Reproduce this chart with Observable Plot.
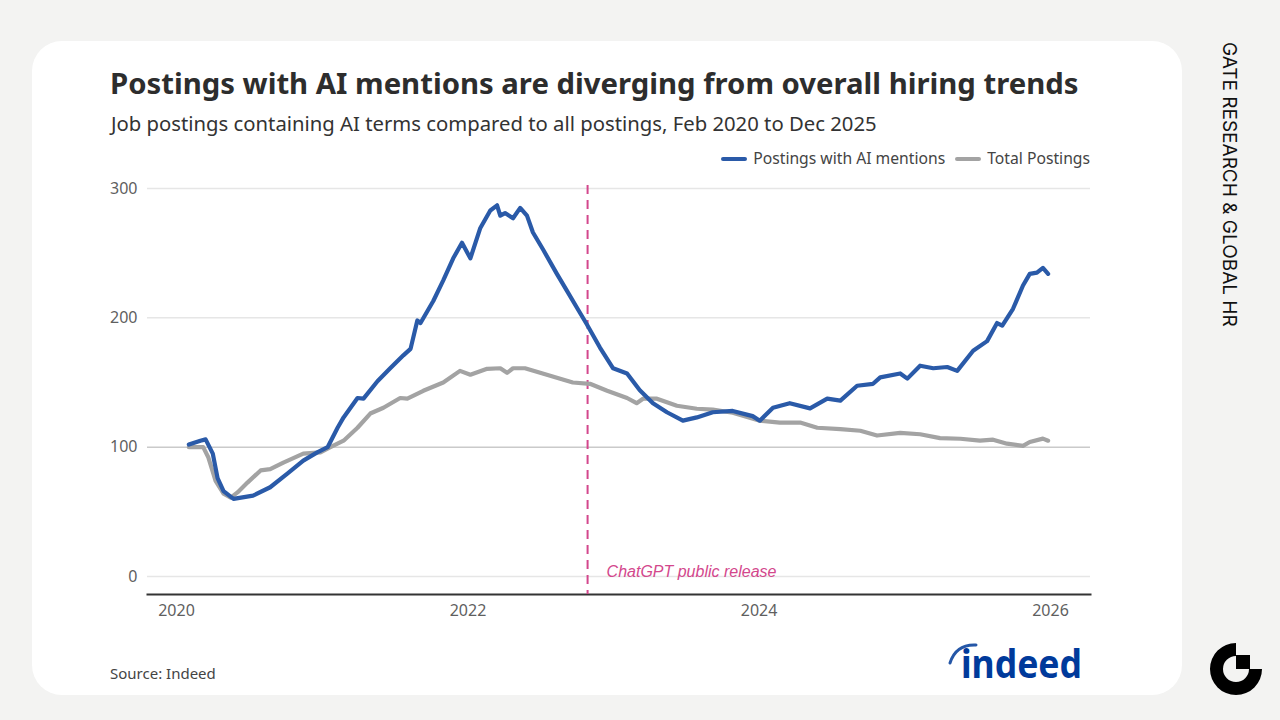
<!DOCTYPE html>
<html><head><meta charset="utf-8">
<script src="https://cdn.jsdelivr.net/npm/d3@7"></script>
<script src="https://cdn.jsdelivr.net/npm/@observablehq/plot@0.6"></script>
<style>
body{margin:0;width:1280px;height:720px;background:#f3f3f2;position:relative;overflow:hidden;font-family:"Noto Sans",sans-serif;}
#card{position:absolute;left:32px;top:41px;width:1150px;height:654px;background:#fff;border-radius:30px;}
.t{position:absolute;white-space:nowrap;line-height:1;}
#title{left:110px;top:69px;font-size:29.3px;font-weight:700;color:#2d2d2d;}
#subtitle{left:111px;top:113px;font-size:20.3px;color:#333;}
#legend{right:190px;top:151px;font-size:15.7px;color:#444;display:flex;align-items:center;}
#legend .sw{display:inline-block;width:26px;height:4px;border-radius:2px;margin-right:6px;}
#source{left:110px;top:666px;font-size:15px;color:#444;}
#side{left:1220px;top:42px;font-family:Inter,sans-serif;font-size:19px;color:#111;writing-mode:vertical-rl;}
#chart{position:absolute;left:100px;top:160px;}
</style></head>
<body>
<div id="card"></div>
<div class="t" id="title">Postings with AI mentions are diverging from overall hiring trends</div>
<div class="t" id="subtitle">Job postings containing AI terms compared to all postings, Feb 2020 to Dec 2025</div>
<div class="t" id="legend"><span class="sw" style="background:#2a5aa8"></span>Postings with AI mentions<span class="sw" style="background:#a3a3a3;margin-left:10px"></span>Total Postings</div>
<div id="chart"></div>
<div class="t" id="source">Source: Indeed</div>
<svg style="position:absolute;left:940px;top:630px;overflow:visible" width="150" height="60">
<path d="M10 33 Q 16 14 36 15" stroke="#2557a7" fill="none" stroke-width="3" stroke-linecap="round"/>
<text x="21" y="48" font-family="Noto Sans" font-size="40" font-weight="700" fill="#003a9b" textLength="121" lengthAdjust="spacingAndGlyphs">indeed</text>
</svg>
<div class="t" id="side">GATE RESEARCH &amp; GLOBAL HR</div>
<svg style="position:absolute;left:1206px;top:640px" width="60" height="60">
<path d="M30 3 A26 26 0 1 0 56 29 L43 29 A13 13 0 1 1 30 16 Z" fill="#000"/>
<rect x="30" y="15" width="14" height="14" fill="#000"/>
</svg>
<script>
const aiDates = ["2020-02-01","2020-03-01","2020-03-14","2020-04-01","2020-04-13","2020-04-28","2020-05-23","2020-07-11","2020-08-23","2020-10-05","2020-11-14","2020-12-19","2021-01-14","2021-02-08","2021-02-23","2021-03-30","2021-04-14","2021-05-19","2021-06-20","2021-07-23","2021-08-10","2021-08-27","2021-09-04","2021-10-06","2021-10-31","2021-11-25","2021-12-17","2022-01-07","2022-02-01","2022-02-26","2022-03-15","2022-03-23","2022-04-04","2022-04-24","2022-05-12","2022-05-29","2022-06-13","2022-07-08","2022-08-12","2022-09-06","2022-10-01","2022-10-26","2022-11-28","2022-12-31","2023-02-04","2023-03-08","2023-04-10","2023-05-15","2023-06-24","2023-07-29","2023-09-07","2023-10-27","2023-12-16","2024-01-03","2024-02-05","2024-03-18","2024-05-08","2024-06-20","2024-07-23","2024-09-03","2024-10-13","2024-10-31","2024-12-20","2025-01-07","2025-02-08","2025-03-13","2025-04-17","2025-05-12","2025-06-21","2025-07-26","2025-08-20","2025-09-02","2025-09-29","2025-10-24","2025-11-10","2025-11-28","2025-12-13","2025-12-26"];
const aiValues = [102,105,106,95,76,66,60,62.5,69,79.5,89.6,96,100,115,123,138,137.5,151,161,171,176,198,196,213,229,246,258,246,269.5,283,287,279,281,277,285,279,266,253,234,221,208,195,177,161,157,144,134,127,120.5,123,127,128,124,120.5,130.5,134,130,137.5,136,147.5,149,154,157,153,163,161,162,159,174.5,182,196,194,207,225,234,235,238.6,234];
const totalDates = ["2020-02-01","2020-03-08","2020-03-21","2020-04-08","2020-04-28","2020-05-16","2020-06-02","2020-06-27","2020-07-30","2020-08-23","2020-09-25","2020-11-14","2020-12-27","2021-01-21","2021-02-23","2021-03-30","2021-05-01","2021-06-03","2021-07-15","2021-08-02","2021-09-11","2021-10-31","2021-12-12","2022-01-07","2022-02-18","2022-03-23","2022-04-09","2022-04-24","2022-05-24","2022-07-01","2022-08-12","2022-09-21","2022-11-03","2022-12-16","2023-02-04","2023-02-28","2023-03-16","2023-04-20","2023-06-09","2023-07-29","2023-09-07","2023-10-27","2024-01-03","2024-02-22","2024-04-13","2024-05-26","2024-07-23","2024-09-11","2024-10-23","2024-12-20","2025-02-08","2025-03-30","2025-05-20","2025-07-08","2025-08-10","2025-09-14","2025-10-24","2025-11-10","2025-12-13","2025-12-26"];
const totalValues = [100,100,92,74,64,61,65,72.6,82,83,88,95,96,100,105,115,126,130.5,138,137.5,143.6,150,159,156,160.6,161,157.5,161,161,157.5,153.7,150,149,143.6,138,134,137.5,137.5,132,129.7,129,126.6,120.5,119,119,115,114,112.7,109,111,110,107,106.5,105,105.8,102.7,101,104,106.6,105];
const yTicks = [0,100,200,300];
const xTicks = ["2020-01-01","2022-01-01","2024-01-01","2026-01-01"];
const release = {date:"2022-10-28", label:"ChatGPT public release"};

const ai = aiDates.map((d,i)=>({date:new Date(d), value:aiValues[i]}));
const total = totalDates.map((d,i)=>({date:new Date(d), value:totalValues[i]}));

const chart = Plot.plot({
  width:1000, height:470,
  marginLeft:47, marginRight:10, marginTop:25, marginBottom:36,
  style:{fontFamily:"Noto Sans", fontSize:"16px", color:"#5f5f5f", background:"transparent", overflow:"visible"},
  x:{type:"utc", domain:[new Date(xTicks[0]), new Date(xTicks[3])], range:[76,950]},
  y:{domain:[0,300], range:[416,28]},
  marks:[
    Plot.ruleY(yTicks.filter(v=>v!==100), {stroke:"#e6e6e6", strokeWidth:1.5}),
    Plot.ruleY([100], {stroke:"#cacaca", strokeWidth:1.5}),
    Plot.frame({anchor:"bottom", stroke:"#333", strokeWidth:2}),
    Plot.axisY({ticks:yTicks, tickSize:0, tickPadding:10, label:null, fontSize:16}),
    Plot.axisX({ticks:xTicks.map(d=>new Date(d)), tickFormat:"%Y", tickSize:0, tickPadding:10, label:null, fontSize:16}),
    Plot.ruleX([release], {x:d=>new Date(d.date), stroke:"#d3478c", strokeWidth:2, strokeDasharray:"9,6"}),
    Plot.text([release], {x:d=>new Date(d.date), y:()=>0, text:"label", dx:19, dy:-5, textAnchor:"start", fill:"#d3478c", fontStyle:"italic", fontSize:16, fontFamily:"Liberation Sans"}),
    Plot.line(total, {x:"date", y:"value", stroke:"#a3a3a3", strokeWidth:4.2}),
    Plot.line(ai, {x:"date", y:"value", stroke:"#2a5aa8", strokeWidth:4.2})
  ]
});
document.getElementById("chart").appendChild(chart);
</script>
</body></html>
